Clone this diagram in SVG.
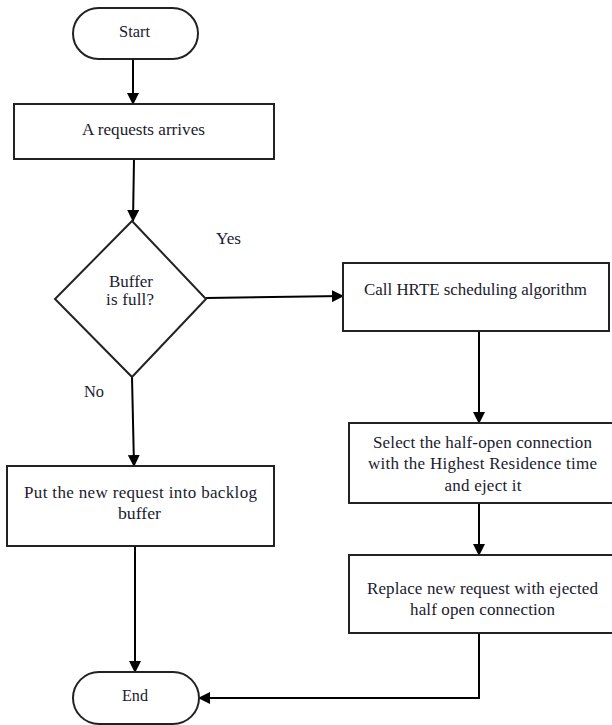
<svg xmlns="http://www.w3.org/2000/svg" width="612" height="725" viewBox="0 0 612 725">
<style>
.s{fill:#fff;stroke:#222;stroke-width:2}
.t{font-family:"Liberation Serif","Times New Roman",serif;font-size:17px;fill:#1a1a2e;text-anchor:middle}
.c{fill:none;stroke:#000;stroke-width:2}
</style>
<defs>
<marker id="a" markerWidth="12" markerHeight="12" refX="11" refY="6" orient="auto" markerUnits="userSpaceOnUse">
<path d="M0,0 L12,6 L0,12 Z" fill="#000"/>
</marker>
</defs>
<rect width="612" height="725" fill="#fff"/>
<g id="connectors">
<path class="c" d="M133,60 L133,104" marker-end="url(#a)"/>
<path class="c" d="M134,159 L133,221" marker-end="url(#a)"/>
<path class="c" d="M206,298 L343,296" marker-end="url(#a)"/>
<path class="c" d="M479,331 L479,423" marker-end="url(#a)"/>
<path class="c" d="M479,503 L479,555" marker-end="url(#a)"/>
<path class="c" d="M132,377 L134,466" marker-end="url(#a)"/>
<path class="c" d="M135,546 L135,672" marker-end="url(#a)"/>
<path class="c" d="M479,633 L479,698 L199,698" marker-end="url(#a)"/>
</g>
<g id="labels">
<text class="t" x="228.5" y="244" textLength="25" lengthAdjust="spacingAndGlyphs">Yes</text>
<text class="t" x="94" y="397" textLength="20" lengthAdjust="spacingAndGlyphs">No</text>
</g>
<g id="start">
<rect class="s" x="73" y="8" width="125" height="51" rx="25.5"/>
<text class="t" x="134.5" y="37" textLength="31" lengthAdjust="spacingAndGlyphs">Start</text>
</g>
<g id="arrives">
<rect class="s" x="14" y="104" width="260" height="55"/>
<text class="t" x="143.5" y="135" textLength="123" lengthAdjust="spacingAndGlyphs">A requests arrives</text>
</g>
<g id="decision">
<path class="s" d="M132,221 L206,299 L132,377 L55,299 Z"/>
<text class="t" x="131" y="287" textLength="44" lengthAdjust="spacingAndGlyphs">Buffer</text>
<text class="t" x="130" y="305" textLength="48" lengthAdjust="spacing">is full?</text>
</g>
<g id="hrte">
<rect class="s" x="343" y="263" width="266" height="68"/>
<text class="t" x="475.5" y="295" textLength="223" lengthAdjust="spacingAndGlyphs">Call HRTE scheduling algorithm</text>
</g>
<g id="select">
<rect class="s" x="349" y="423" width="264" height="80"/>
<text class="t" x="482.5" y="448" textLength="219" lengthAdjust="spacing">Select the half-open connection</text>
<text class="t" x="482.5" y="469" textLength="229" lengthAdjust="spacing">with the Highest Residence time</text>
<text class="t" x="483" y="491" textLength="77" lengthAdjust="spacing">and eject it</text>
</g>
<g id="replace">
<rect class="s" x="349" y="555" width="264" height="78"/>
<text class="t" x="482.5" y="594" textLength="231" lengthAdjust="spacing">Replace new request with ejected</text>
<text class="t" x="482.5" y="615" textLength="145" lengthAdjust="spacing">half open connection</text>
</g>
<g id="backlog">
<rect class="s" x="7" y="466" width="267" height="80"/>
<text class="t" x="140.5" y="498" textLength="233" lengthAdjust="spacing">Put the new request into backlog</text>
<text class="t" x="139.5" y="519" textLength="43" lengthAdjust="spacingAndGlyphs">buffer</text>
</g>
<g id="end">
<rect class="s" x="73" y="672" width="126" height="52" rx="26"/>
<text class="t" x="135" y="701" textLength="26" lengthAdjust="spacingAndGlyphs">End</text>
</g>
</svg>
